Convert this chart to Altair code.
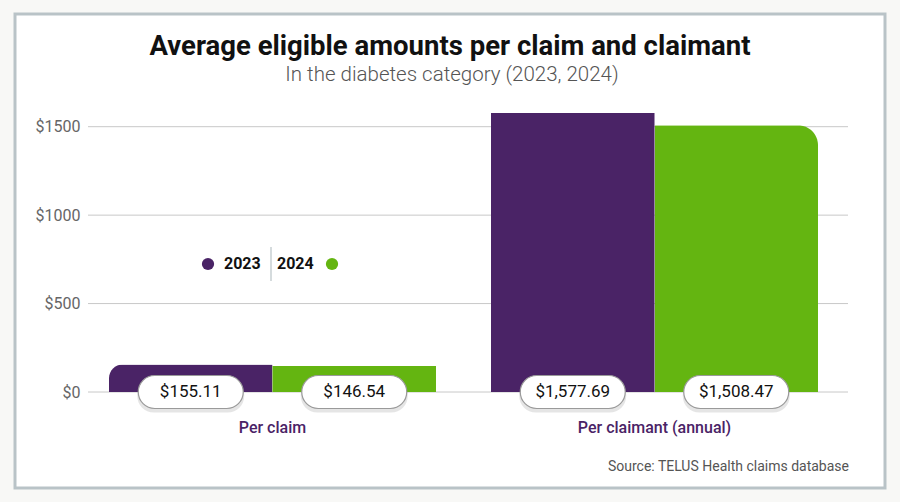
import altair as alt
import pandas as pd

categories = ["Per claim", "Per claimant (annual)"]
years = ["2023", "2024"]
values_2023 = [155.11, 1577.69]
values_2024 = [146.54, 1508.47]
y_ticks = [0, 500, 1000, 1500]
colors = ["#4a2366", "#64b511"]
title_text = "Average eligible amounts per claim and claimant"
subtitle_text = "In the diabetes category (2023, 2024)"
source_text = "Source: TELUS Health claims database"

rows = []
for i, c in enumerate(categories):
    rows.append({"category": c, "year": "2023", "value": values_2023[i]})
    rows.append({"category": c, "year": "2024", "value": values_2024[i]})
df = pd.DataFrame(rows)

W, H = 760, 283
PL, PT = 88, 109
FONT = "Roboto"

xscale = alt.Scale(domain=categories, range=[21, 730], paddingInner=0.144, paddingOuter=0)
xoff = alt.XOffset("year:N", scale=alt.Scale(domain=years, paddingInner=0, paddingOuter=0))
yscale = alt.Scale(domain=[0, 1600], nice=False)
cscale = alt.Scale(domain=years, range=colors)

xenc = alt.X("category:N", scale=xscale, title=None,
             axis=alt.Axis(domain=False, ticks=False, labelPadding=27, labelFontSize=16,
                           labelColor="#4a2366", labelFont=FONT, labelFontWeight=500,
                           labelAngle=0, zindex=2))
yenc = alt.Y("value:Q", scale=yscale, title=None,
             axis=alt.Axis(values=y_ticks, grid=False, domain=False, ticks=False,
                           labelExpr="'$' + datum.value", labelFontSize=16,
                           labelColor="#666666", labelFont=FONT, labelPadding=8, zindex=2))

base = alt.Chart(df)
one = pd.DataFrame({"k": [0]})

# frame decoration
frame = alt.Chart(one).mark_rect(
    fill="white", stroke="#b9c3c7", strokeWidth=3
).encode(x=alt.value(15 - PL), x2=alt.value(885 - PL),
         y=alt.value(14 - PT), y2=alt.value(488 - PT))

grid = alt.Chart(pd.DataFrame({"t": y_ticks})).mark_rule(color="#c8c8c8", strokeWidth=1).encode(
    y=alt.Y("t:Q", scale=yscale), x=alt.value(0), x2=alt.value(W)
)

def bars(filter_expr, **kw):
    return base.transform_filter(filter_expr).mark_bar(**kw).encode(
        x=xenc, xOffset=xoff, y=yenc,
        color=alt.Color("year:N", scale=cscale, legend=None),
    )

b1 = bars("datum.category == 'Per claim' && datum.year == '2023'", cornerRadiusTopLeft=20)
b2 = bars("datum.category == 'Per claimant (annual)' && datum.year == '2024'", cornerRadiusTopRight=20)
b3 = bars("(datum.category == 'Per claim' && datum.year == '2024') || (datum.category == 'Per claimant (annual)' && datum.year == '2023')")

PW, PH = 105, 33
shadow = base.mark_bar(width=PW + 2, cornerRadius=PH / 2, color="#000000", opacity=0.1).encode(
    x=alt.X("category:N", scale=xscale), xOffset=xoff,
    y=alt.value(H - PH / 2 + 3), y2=alt.value(H + PH / 2 + 4),
)
pill = base.mark_bar(width=PW, cornerRadius=PH / 2, fill="white", stroke="#9a9a9a", strokeWidth=1.2).encode(
    x=alt.X("category:N", scale=xscale), xOffset=xoff,
    y=alt.value(H - PH / 2), y2=alt.value(H + PH / 2),
)
pill_text = base.transform_calculate(
    label="'$' + format(datum.value, ',.2f')"
).mark_text(fontSize=17, font=FONT, fontWeight="normal", color="#111111", baseline="middle").encode(
    x=alt.X("category:N", scale=xscale), xOffset=xoff,
    y=alt.value(H), text="label:N",
)

leg_y = 264 - PT
leg_c1 = alt.Chart(one).mark_circle(size=150, color=colors[0], opacity=1).encode(
    x=alt.value(208 - PL), y=alt.value(leg_y))
leg_c2 = alt.Chart(one).mark_circle(size=150, color=colors[1], opacity=1).encode(
    x=alt.value(332 - PL), y=alt.value(leg_y))
leg_t1 = alt.Chart(one).mark_text(text="2023", fontSize=16, font=FONT, fontWeight="bold",
                                   align="left", baseline="middle", color="#111111").encode(
    x=alt.value(224 - PL), y=alt.value(leg_y))
leg_t2 = alt.Chart(one).mark_text(text="2024", fontSize=16, font=FONT, fontWeight="bold",
                                   align="left", baseline="middle", color="#111111").encode(
    x=alt.value(277 - PL), y=alt.value(leg_y))
leg_sep = alt.Chart(one).mark_rule(color="#b9c3c7", strokeWidth=1.2).encode(
    x=alt.value(271 - PL), y=alt.value(247 - PT), y2=alt.value(281 - PT))

title = alt.Chart(one).mark_text(text=title_text, fontSize=27.5, font=FONT, fontWeight="bold",
                                  align="center", baseline="middle", color="#111111").encode(
    x=alt.value(450 - PL), y=alt.value(47 - PT))
subtitle = alt.Chart(one).mark_text(text=subtitle_text, fontSize=20.5, font=FONT, fontWeight=300,
                                     align="center", baseline="middle", color="#555555").encode(
    x=alt.value(452 - PL), y=alt.value(75 - PT))

source = alt.Chart(one).mark_text(text=source_text, fontSize=14,
                                   font=FONT, align="right", baseline="middle",
                                   color="#555555").encode(
    x=alt.value(849 - PL), y=alt.value(467 - PT))

chart = alt.layer(
    frame, grid, b1, b2, b3, shadow, pill, pill_text,
    leg_c1, leg_c2, leg_t1, leg_t2, leg_sep, title, subtitle, source
).properties(
    width=W, height=H,
    padding={"left": PL, "top": PT, "right": 900 - PL - W, "bottom": 502 - PT - H},
    autosize=alt.AutoSizeParams(type="none"),
    background="#f8f8f6",
).configure_view(stroke=None)

chart.save("out.html", embed_options={"renderer": "svg", "actions": False})
